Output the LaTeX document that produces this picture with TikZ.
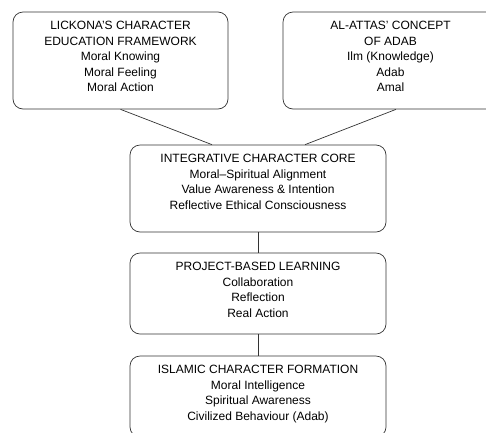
\documentclass[tikz,border=0pt]{standalone}
\usepackage{fontspec}
\setmainfont{Liberation Sans}
\usetikzlibrary{positioning}

\tikzset{
  frame/.style = {draw=black!80, line width=0.7pt, rounded corners=10pt},
  txt/.style = {align=center, anchor=north, inner sep=0pt, font=\fontsize{12}{15.5}\selectfont},
  link/.style = {draw=black!80, line width=0.7pt}
}

\begin{document}
\begin{tikzpicture}[x=1pt, y=-1pt]
\useasboundingbox (0,0) rectangle (486,432);
% two source frameworks
\node[frame, minimum width=215pt, minimum height=97pt] (lickona) at (120.5,60.5){};
\node[txt] at ([yshift=-9.5pt]lickona.north){LICKONA'S CHARACTER\\EDUCATION FRAMEWORK\\Moral Knowing\\Moral Feeling\\Moral Action};
\node[frame, minimum width=215pt, minimum height=97pt] (adab) at (390.5,60.5){};
\node[txt] at ([yshift=-9.5pt]adab.north){AL-ATTAS' CONCEPT\\OF ADAB\\Ilm (Knowledge)\\Adab\\Amal};
% central chain
\node[frame, minimum width=256pt, minimum height=87pt] (core) at (258,188.5){};
\node[txt] at ([yshift=-9.5pt]core.north){INTEGRATIVE CHARACTER CORE\\Moral--Spiritual Alignment\\Value Awareness \& Intention\\Reflective Ethical Consciousness};
\node[frame, minimum width=256pt, minimum height=81pt] (pbl) at (258,293.5){};
\node[txt] at ([yshift=-9.5pt]pbl.north){PROJECT-BASED LEARNING\\Collaboration\\Reflection\\Real Action};
\node[frame, minimum width=256pt, minimum height=81pt] (islamic) at (258,396.5){};
\node[txt] at ([yshift=-9.5pt]islamic.north){ISLAMIC CHARACTER FORMATION\\Moral Intelligence\\Spiritual Awareness\\Civilized Behaviour (Adab)};

\draw[link] (lickona.south) -- ([xshift=-46pt]core.north);
\draw[link] ([xshift=5.5pt]adab.south) -- ([xshift=47pt]core.north);
\draw[link] (core.south) -- (pbl.north);
\draw[link] (pbl.south) -- (islamic.north);
\end{tikzpicture}
\end{document}
